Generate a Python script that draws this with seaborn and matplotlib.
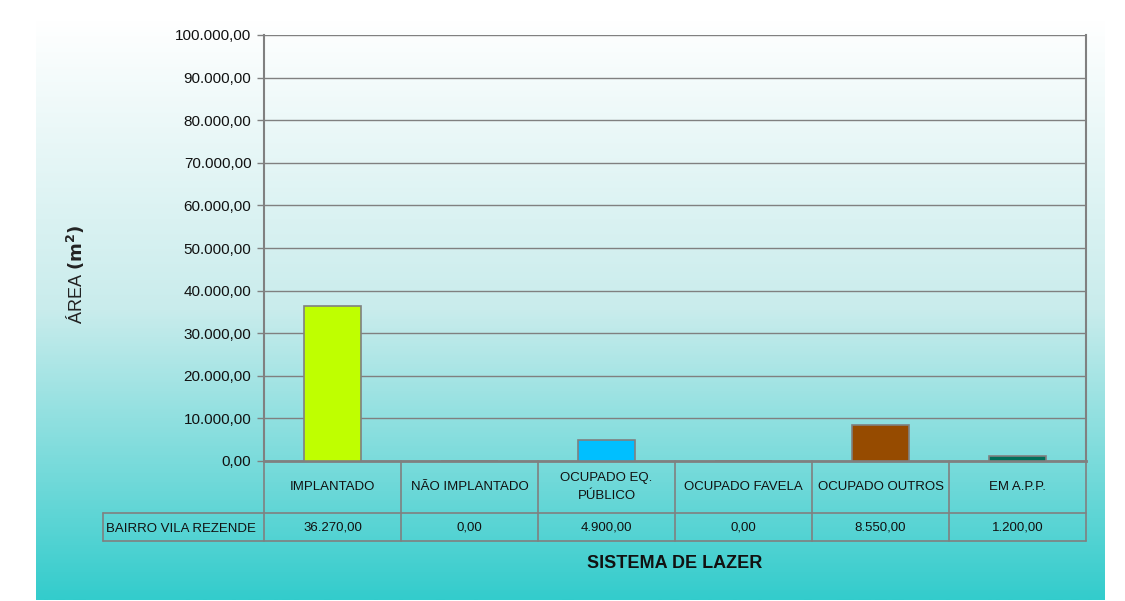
import numpy as np
import matplotlib
matplotlib.use("Agg")
import matplotlib.pyplot as plt
import seaborn as sns
from matplotlib.lines import Line2D
from matplotlib.colors import LinearSegmentedColormap

categories = ["IMPLANTADO", "NÃO IMPLANTADO", "OCUPADO EQ.\nPÚBLICO", "OCUPADO FAVELA", "OCUPADO OUTROS", "EM A.P.P."]
values = [36270.00, 0.00, 4900.00, 0.00, 8550.00, 1200.00]
bar_colors = ["#BFFF00", "#BFFF00", "#00BFFF", "#00BFFF", "#964B00", "#00705A"]
series_label = "BAIRRO VILA REZENDE"
y_ticks = [0, 10000, 20000, 30000, 40000, 50000, 60000, 70000, 80000, 90000, 100000]

sns.set_theme(style="white")
plt.rcParams["font.family"] = ["Liberation Sans", "DejaVu Sans"]

W, H = 1125, 601
fig = plt.figure(figsize=(W / 100, H / 100), dpi=100)
fig.patch.set_facecolor("white")

def fx(x):
    return x / W

def fy(y):
    return 1 - y / H

# gradient background
bg = fig.add_axes([fx(36), fy(600), fx(1105) - fx(36), fy(20) - fy(600)])
cmap = LinearSegmentedColormap.from_list("g", ["#FFFFFF", "#C9ECEC", "#33CCCC"])
grad = np.linspace(0, 1, 256).reshape(-1, 1)
bg.imshow(grad, aspect="auto", cmap=cmap, extent=[0, 1, 0, 1], origin="upper")
bg.set_axis_off()
bg.set_zorder(-10)

L, R, T, B = 264, 1086, 35, 461
ax = fig.add_axes([fx(L), fy(B), fx(R) - fx(L), fy(T) - fy(B)])
ax.patch.set_alpha(0)

idx = list(range(len(categories)))
sns.barplot(x=idx, y=values, hue=idx, palette=bar_colors, saturation=1,
            legend=False, width=0.42, edgecolor="#808080", linewidth=1.2, ax=ax, zorder=3)

ax.set_ylim(0, 100000)
ax.set_xlim(-0.5, len(categories) - 0.5)
ax.set_yticks(y_ticks)

def br(v):
    s = f"{v:,.2f}"
    return s.replace(",", "X").replace(".", ",").replace("X", ".")

ax.set_yticklabels([br(v) for v in y_ticks], fontsize=11, color="#111111")
ax.tick_params(axis="y", which="both", left=True, length=5, width=1, color="#808080", pad=4)
ax.set_xticks([])
ax.yaxis.grid(True, color="#808080", linewidth=1)
ax.set_axisbelow(True)
for s in ["left", "right", "bottom"]:
    ax.spines[s].set_visible(True)
    ax.spines[s].set_color("#808080")
ax.spines["left"].set_linewidth(1.5)
ax.spines["bottom"].set_linewidth(2)
ax.spines["right"].set_linewidth(1.5)
ax.spines["top"].set_visible(False)
ax.set_xlabel("")
ax.set_ylabel("")

# table
line_kw = dict(color="#808080", linewidth=1.2, transform=fig.transFigure)
cw = (R - L) / len(categories)
row1, row2, row3 = B, 513, 541
TL = 103
for i in range(len(categories) + 1):
    x = L + i * cw
    fig.add_artist(Line2D([fx(x), fx(x)], [fy(row1), fy(row3)], **line_kw))
fig.add_artist(Line2D([fx(TL), fx(R)], [fy(row2), fy(row2)], **line_kw))
fig.add_artist(Line2D([fx(TL), fx(R)], [fy(row3), fy(row3)], **line_kw))
fig.add_artist(Line2D([fx(TL), fx(TL)], [fy(row2), fy(row3)], **line_kw))

for i, (c, v) in enumerate(zip(categories, values)):
    cx = L + (i + 0.5) * cw
    fig.text(fx(cx), fy((row1 + row2) / 2), c, ha="center", va="center",
             fontsize=9.5, color="#111111", linespacing=1.6)
    fig.text(fx(cx), fy((row2 + row3) / 2 + 1), br(v), ha="center", va="center",
             fontsize=9.5, color="#111111")
fig.text(fx(TL + 3), fy((row2 + row3) / 2 + 2), series_label, ha="left", va="center",
         fontsize=9.5, color="#111111")

fig.text(fx(675), fy(564), "SISTEMA DE LAZER", ha="center", va="center",
         fontsize=13, fontweight="bold", color="#111111")
fig.text(fx(76), fy(274), "ÁREA $\\mathbf{(m^2)}$", ha="center", va="center",
         rotation=90, fontsize=13, color="#222222")

fig.savefig("out.png", dpi=100)
